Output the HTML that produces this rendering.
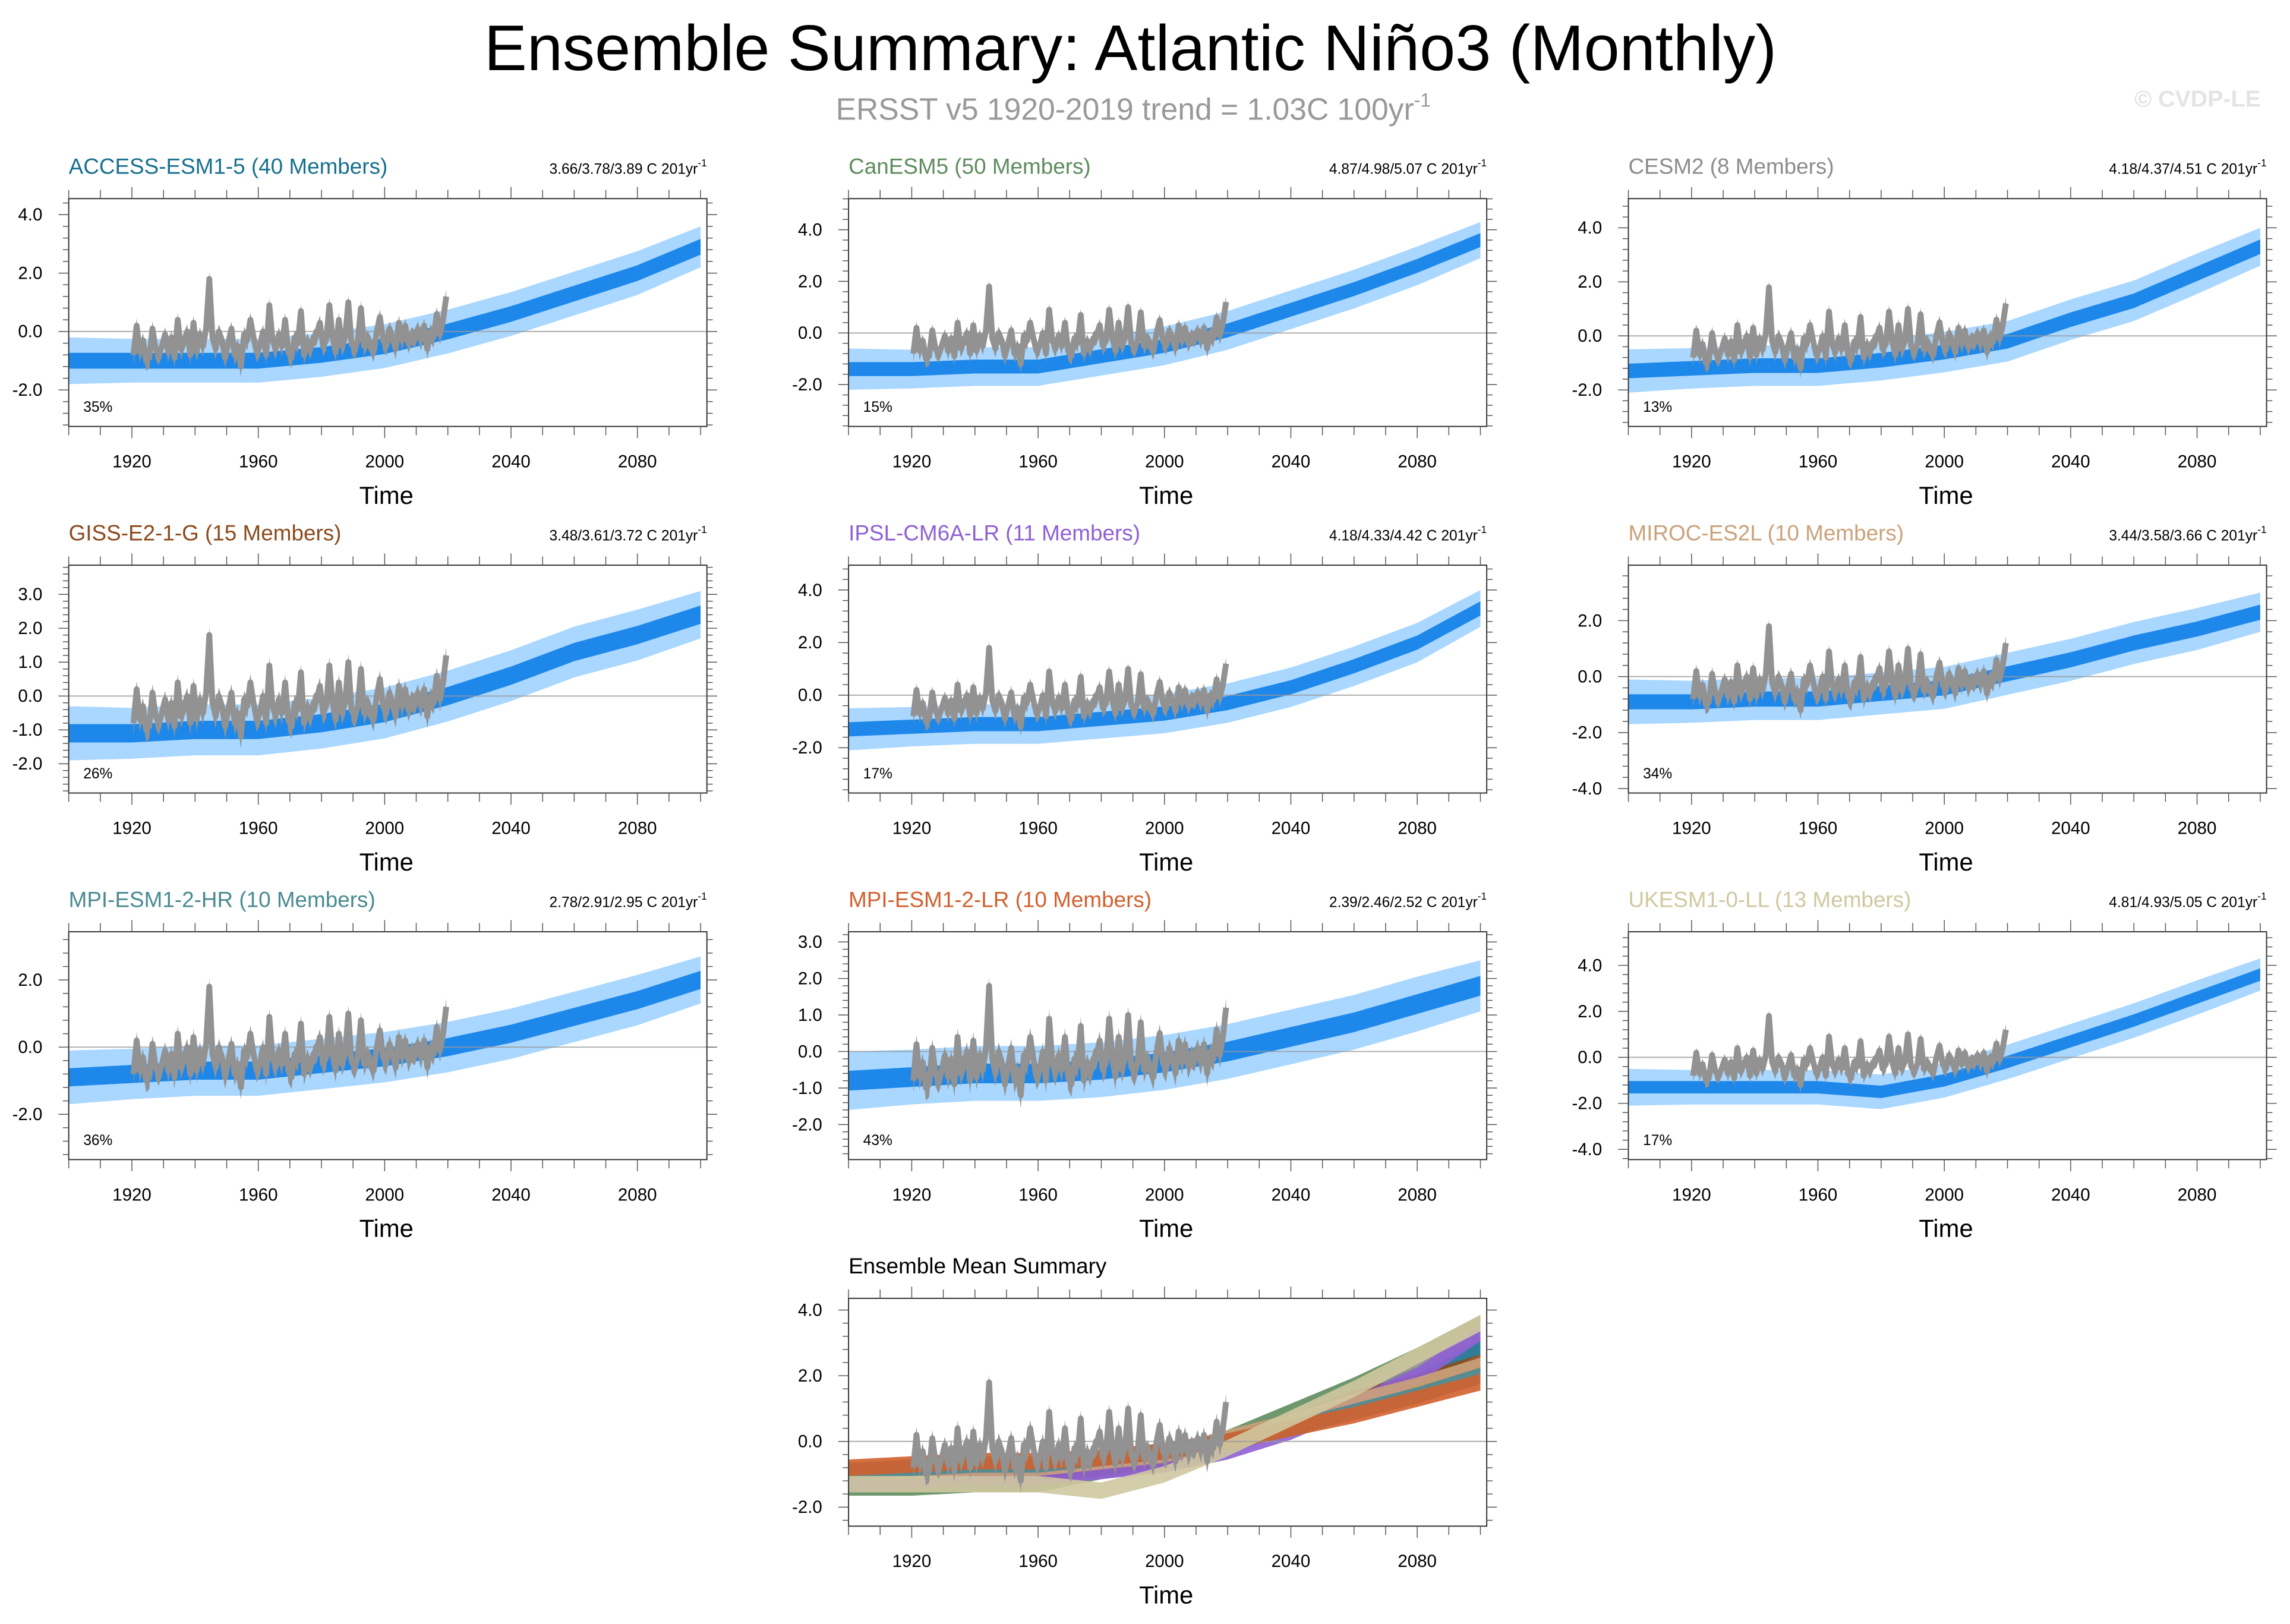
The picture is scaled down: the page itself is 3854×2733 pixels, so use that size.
<!DOCTYPE html>
<html><head><meta charset="utf-8"><style>
html,body{margin:0;padding:0;background:#fff;}
svg{display:block;font-family:"Liberation Sans",sans-serif;}
</style></head><body>
<svg id="fig" width="3854" height="2733" viewBox="0 0 1568 1112" xmlns="http://www.w3.org/2000/svg">
<text x="774" y="48" font-size="44" text-anchor="middle" fill="#000">Ensemble Summary: Atlantic Niño3 (Monthly)</text>
<text x="776" y="82" font-size="21" text-anchor="middle" fill="#999">ERSST v5 1920-2019 trend = 1.03C 100yr<tspan font-size="13" dy="-9">-1</tspan></text>
<text x="1548" y="73" font-size="16" font-weight="bold" text-anchor="end" fill="#e4e4e4">© CVDP-LE</text>
<g id="panels"></g>
</svg>
<script>
// ---- data ----
const meanYears = [1900,1920,1940,1960,1980,2000,2020,2040,2060,2080,2100];
const accessMean = [-1.0,-1.0,-1.0,-1.0,-0.8,-0.5,0.0,0.6,1.3,2.0,2.9];
const canesmMean = [-1.4,-1.4,-1.3,-1.3,-0.9,-0.5,0.1,0.9,1.7,2.6,3.6];
const cesmMean = [-1.3,-1.2,-1.1,-1.1,-0.9,-0.6,-0.2,0.6,1.3,2.3,3.3];
const gissMean = [-1.1,-1.1,-1.0,-1.0,-0.8,-0.5,0.0,0.6,1.3,1.8,2.4];
const ipslMean = [-1.3,-1.2,-1.1,-1.1,-0.9,-0.7,-0.3,0.3,1.1,2.0,3.3];
const mirocMean = [-0.9,-0.9,-0.8,-0.8,-0.6,-0.4,0.1,0.6,1.2,1.7,2.3];
const mpihrMean = [-0.9,-0.8,-0.7,-0.7,-0.5,-0.3,0.0,0.4,0.9,1.4,2.0];
const mpilrMean = [-0.8,-0.7,-0.6,-0.6,-0.5,-0.3,0.0,0.4,0.8,1.3,1.8];
const ukesmMean = [-1.3,-1.3,-1.3,-1.3,-1.5,-1.0,-0.2,0.7,1.6,2.6,3.6];
const spreadHalf = [0.8,0.75,0.75,0.75,0.75,0.75,0.75,0.75,0.75,0.75,0.7];
const obsStart = 1920;
const obsValues = [-0.8,0.2,-0.7,-0.3,-1.0,-0.9,0.1,-0.6,-0.8,-0.5, -0.1,-0.7,-0.2,-0.9,0.4,-0.6,-0.3,0.0,-0.8,0.3, -0.7,-0.1,-0.5,0.1,1.8,-0.2,-0.6,0.0,-0.3,-0.9, -0.4,0.1,-0.8,-0.5,-1.2,-0.1,-0.3,0.4,-0.2,-0.7, -0.5,0.0,-0.8,0.9,-0.3,-0.6,-0.1,-0.5,0.4,-0.7, -0.9,-0.2,-0.4,0.7,-0.8,-0.3,-0.6,-0.2,-0.1,0.3, -0.5,-0.3,0.9,-0.2,-0.7,0.4,-0.5,-0.2,1.0,-0.4, -0.6,-0.3,0.8,-0.5,-0.2,-0.4,-0.7,0.0,0.5,-0.3, -0.5,0.1,-0.2,-0.6,0.3,-0.3,0.2,-0.4,-0.1,-0.2, 0.1,-0.3,0.2,-0.6,0.0,-0.2,0.6,-0.1,0.4,1.2];
const xTicks = [1920,1960,2000,2040,2080];
const modelNames = ["ACCESS-ESM1-5 (40 Members)","CanESM5 (50 Members)","CESM2 (8 Members)","GISS-E2-1-G (15 Members)","IPSL-CM6A-LR (11 Members)","MIROC-ES2L (10 Members)","MPI-ESM1-2-HR (10 Members)","MPI-ESM1-2-LR (10 Members)","UKESM1-0-LL (13 Members)"];
const modelStats = ["3.66/3.78/3.89","4.87/4.98/5.07","4.18/4.37/4.51","3.48/3.61/3.72","4.18/4.33/4.42","3.44/3.58/3.66","2.78/2.91/2.95","2.39/2.46/2.52","4.81/4.93/5.05"];
const modelPct = ["35%","15%","13%","26%","17%","34%","36%","43%","17%"];
const modelMeans = [accessMean,canesmMean,cesmMean,gissMean,ipslMean,mirocMean,mpihrMean,mpilrMean,ukesmMean];
const yTicksList = [[-2,0,2,4],[-2,0,2,4],[-2,0,2,4],[-2,-1,0,1,2,3],[-2,0,2,4],[-4,-2,0,2],[-2,0,2],[-2,-1,0,1,2,3],[-4,-2,0,2,4]];
const summaryTicks = [-2,0,2,4];

// ---- layout/style ----
const colors = ["#17708f","#5e8c5e","#8c8c8c","#8b4a1c","#8e60d4","#caa27a","#4a8a92","#d2602e","#cfc8a0"];
const colX = [47,581,1115], rowY = [136,387,638];
const BW = 437, BH = 156;
const yAxes = [[227,20],[228,17.67],[230,18.5],[476.6,23.2],[476,18],[463.3,19.17],[717,23],[720,25],[724,15.75]];
const NS = "http://www.w3.org/2000/svg";
const root = document.getElementById('panels');
function mk(tag, attrs, parent){const e=document.createElementNS(NS,tag);for(const k in attrs)e.setAttribute(k,attrs[k]);(parent||root).appendChild(e);return e;}
function interp(arr, yr){for(let i=0;i<meanYears.length-1;i++){if(yr<=meanYears[i+1]){const t=(yr-meanYears[i])/(meanYears[i+1]-meanYears[i]);return arr[i]+t*(arr[i+1]-arr[i]);}}return arr[arr.length-1];}

function panel(x0,y0,zeroY,ppu,yticks,series,isSummary,idx){
  const g = mk('g',{});
  
  
  const X = yr => x0 + (yr-1900)*(BW/202);
  const Y = v => zeroY - v*ppu;
  const clip = 'clip'+(isSummary?'s':idx);
  const cp = mk('clipPath',{id:clip},g); mk('rect',{x:x0,y:y0,width:BW,height:BH},cp);
  const inner = mk('g',{'clip-path':'url(#'+clip+')'},g);
  series.forEach((s)=>{
    const up=[],dn=[],cu=[],cd=[];
    const cw = isSummary?0.25:0.27;
    for(let yr=1900;yr<=2100;yr+=2){
      const m=interp(s.mean,yr), sp=interp(spreadHalf,yr);
      up.push(X(yr)+','+Y(m+sp)); dn.unshift(X(yr)+','+Y(m-sp));
      cu.push(X(yr)+','+Y(m+cw)); cd.unshift(X(yr)+','+Y(m-cw));
    }
    if(!isSummary){
      const env=mk('polygon',{points:up.concat(dn).join(' '),fill:'#8ccaff','fill-opacity':0.75},inner);
      
      
      const core=mk('polygon',{points:cu.concat(cd).join(' '),fill:'#1e88ea'},inner);
      
      
    } else {
      const core=mk('polygon',{points:cu.concat(cd).join(' '),fill:s.color,'fill-opacity':0.9},inner);
      
      
    }
  });
  const zl = mk('line',{x1:x0,x2:x0+BW,y1:Y(0),y2:Y(0),stroke:'#999','stroke-width':0.8,'stroke-opacity':0.8},inner);
  
  
  // obs
  const obsPts=[], obsUp=[], obsDn=[];
  obsValues.forEach((v,i)=>{const yr=obsStart+i+0.5;obsPts.push(X(yr)+','+Y(v));obsUp.push(X(yr)+','+Y(v+0.25));obsDn.unshift(X(yr)+','+Y(v-0.35));});
  const obb=mk('polygon',{points:obsUp.concat(obsDn).join(' '),fill:'#929292'},inner);
  
  
  const ob=mk('polyline',{points:obsPts.join(' '),fill:'none',stroke:'#929292','stroke-width':4,'stroke-linejoin':'round'},inner);
  
  
  const fr=mk('rect',{x:x0,y:y0,width:BW,height:BH,fill:'none',stroke:'#333','stroke-width':0.8},g);
  
  
  // x ticks (outward)
  for(let yr=1900;yr<=2100;yr+=10){
    const maj = yr%40===0 && yr>=1920;
    const L = maj?8:6;
    mk('line',{x1:X(yr),x2:X(yr),y1:y0+BH,y2:y0+BH+L,stroke:'#555','stroke-width':0.6},g);
    mk('line',{x1:X(yr),x2:X(yr),y1:y0,y2:y0-L,stroke:'#555','stroke-width':0.6},g);
  }
  xTicks.forEach(t=>{const tx=mk('text',{x:X(t),y:y0+BH+28,'font-size':12,'text-anchor':'middle'},g);tx.textContent=t;
    
    });
  const tl=mk('text',{x:x0+BW/2-1,y:y0+BH+53,'font-size':17,'text-anchor':'middle'},g);tl.textContent='Time';
  
  
  // y ticks (outward)
  const step = yticks[1]-yticks[0];
  for(let v=yticks[0]-step;v<=yticks[yticks.length-1]+step+1e-6;v+=step/5){
    const yy=Y(v); if(yy<y0||yy>y0+BH) continue;
    const maj = yticks.some(t=>Math.abs(t-v)<1e-6);
    const L = maj?7:4;
    mk('line',{x1:x0,x2:x0-L,y1:yy,y2:yy,stroke:'#555','stroke-width':0.6},g);
    mk('line',{x1:x0+BW,x2:x0+BW+L,y1:yy,y2:yy,stroke:'#555','stroke-width':0.6},g);
  }
  yticks.forEach(t=>{const tx=mk('text',{x:x0-18,y:Y(t)+4,'font-size':12,'text-anchor':'end'},g);tx.textContent=t.toFixed(1);
    
    });
  return g;
}

for(let i=0;i<9;i++){
  const x0=colX[i%3], y0=rowY[Math.floor(i/3)];
  const g=panel(x0,y0,yAxes[i][0],yAxes[i][1],yTicksList[i],[{mean:modelMeans[i]}],false,i);
  const t=mk('text',{x:x0,y:y0-17,'font-size':15,fill:colors[i]},g);t.textContent=modelNames[i];
  
  
  const s=mk('text',{x:x0+BW,y:y0-17,'font-size':10,'text-anchor':'end'},g);
  s.innerHTML=modelStats[i]+' C 201yr<tspan font-size="7" dy="-5">-1</tspan>';
  
  
  const p=mk('text',{x:x0+10,y:y0+BH-10,'font-size':10},g);p.textContent=modelPct[i];
  
  
}
const sg=panel(581,889,987,22.5,summaryTicks,modelMeans.map((m,i)=>({mean:m,color:colors[i]})),true,9);
const st=mk('text',{x:581,y:872,'font-size':15,fill:'#000'},sg);st.textContent='Ensemble Mean Summary';


</script>
</body></html>
